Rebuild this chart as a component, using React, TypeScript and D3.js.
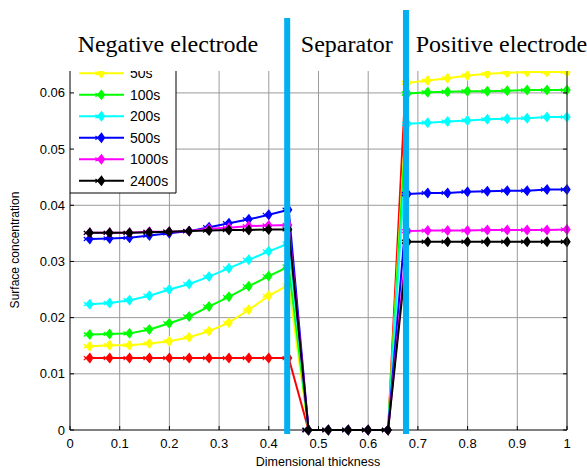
// @ts-nocheck
import { useRef, useEffect } from "react";
import * as d3 from "d3";

// dimensionless thickness at which the concentration is sampled
const xNeg = [0.04, 0.08, 0.12, 0.16, 0.2, 0.24, 0.28, 0.32, 0.36, 0.4, 0.44];
const xSep = [0.48, 0.52, 0.56, 0.6, 0.64];
const xPos = [0.68, 0.72, 0.76, 0.8, 0.84, 0.88, 0.92, 0.96, 1.0];

const sepZero = [0, 0, 0, 0, 0];

const seriesNames = ["0s", "50s", "100s", "200s", "500s", "1000s", "2400s"];
const seriesColors = ["#ff0000", "#ffff00", "#00ff00", "#00ffff", "#0000ff", "#ff00ff", "#000000"];

// negative electrode values
const neg0 = [0.0128, 0.0128, 0.0128, 0.0128, 0.0128, 0.0128, 0.0128, 0.0128, 0.0128, 0.0128, 0.0128];
const neg50 = [0.0149, 0.0151, 0.0151, 0.0154, 0.0158, 0.0165, 0.0176, 0.0191, 0.0214, 0.0239, 0.0258];
const neg100 = [0.017, 0.0171, 0.0172, 0.0179, 0.019, 0.0202, 0.022, 0.0237, 0.0256, 0.0274, 0.0291];
const neg200 = [0.0224, 0.0226, 0.0231, 0.0239, 0.025, 0.026, 0.0273, 0.0288, 0.0303, 0.0318, 0.0332];
const neg500 = [0.034, 0.0341, 0.0342, 0.0346, 0.035, 0.0354, 0.0361, 0.0368, 0.0375, 0.0383, 0.0392];
const neg1000 = [0.0351, 0.0351, 0.0351, 0.0353, 0.0353, 0.0354, 0.0358, 0.036, 0.0363, 0.0364, 0.0365];
const neg2400 = [0.0351, 0.0351, 0.0351, 0.0352, 0.0353, 0.0354, 0.0355, 0.0356, 0.0356, 0.0357, 0.0357];

// positive electrode values
const pos0 = [0.07, 0.07, 0.07, 0.07, 0.07, 0.07, 0.07, 0.07, 0.07];
const pos50 = [0.0618, 0.0622, 0.0626, 0.0631, 0.0634, 0.0636, 0.0637, 0.0637, 0.0637];
const pos100 = [0.0599, 0.0601, 0.0602, 0.0603, 0.0603, 0.0604, 0.0605, 0.0605, 0.0605];
const pos200 = [0.0545, 0.0547, 0.0549, 0.0551, 0.0553, 0.0554, 0.0555, 0.0557, 0.0557];
const pos500 = [0.042, 0.0422, 0.0422, 0.0424, 0.0425, 0.0426, 0.0426, 0.0428, 0.0428];
const pos1000 = [0.0354, 0.0355, 0.0355, 0.0355, 0.0356, 0.0356, 0.0356, 0.0356, 0.0357];
const pos2400 = [0.0335, 0.0335, 0.0335, 0.0335, 0.0335, 0.0335, 0.0335, 0.0335, 0.0335];

const negSeries = [neg0, neg50, neg100, neg200, neg500, neg1000, neg2400];
const posSeries = [pos0, pos50, pos100, pos200, pos500, pos1000, pos2400];

const xTicks = [0, 0.1, 0.2, 0.3, 0.4, 0.5, 0.6, 0.7, 0.8, 0.9, 1];
const yTicks = [0, 0.01, 0.02, 0.03, 0.04, 0.05, 0.06];

// region boundaries (blue bars) and region titles
const boundaries = [0.437, 0.676];
const regionTitles = [
  { label: "Negative electrode", x: 0.197 },
  { label: "Separator", x: 0.557 },
  { label: "Positive electrode", x: 0.868 },
];

const W = 587;
const H = 468;

const App = () => {
  const svgRef = useRef();

  useEffect(() => {
    const svg = d3.select(svgRef.current);
    svg.selectAll("*").remove();

    const margin = { top: 71, right: 20, bottom: 38, left: 70 };
    const x = d3.scaleLinear().domain([0, 1]).range([margin.left, W - margin.right]);
    const y = d3.scaleLinear().domain([0, 0.0639]).range([H - margin.bottom, margin.top]);

    svg.append("rect").attr("width", W).attr("height", H).attr("fill", "white");

    svg
      .append("defs")
      .append("clipPath")
      .attr("id", "plotClip")
      .append("rect")
      .attr("x", 0)
      .attr("y", margin.top)
      .attr("width", W)
      .attr("height", H - margin.top);

    // grid
    const grid = svg.append("g").attr("stroke", "#9a9a9a").attr("stroke-width", 1);
    xTicks.slice(1).forEach((t) => {
      grid.append("line").attr("x1", x(t)).attr("x2", x(t)).attr("y1", y(0)).attr("y2", margin.top);
    });
    yTicks.slice(1).forEach((t) => {
      grid.append("line").attr("x1", x(0)).attr("x2", x(1)).attr("y1", y(t)).attr("y2", y(t));
    });

    // build series data
    const series = seriesNames.map((name, i) => {
      const pts = [
        ...xNeg.map((xv, j) => [xv, negSeries[i][j]]),
        ...xSep.map((xv, j) => [xv, sepZero[j]]),
        ...xPos.map((xv, j) => [xv, posSeries[i][j]]),
      ];
      return { name, color: seriesColors[i], pts };
    });

    const line = d3
      .line()
      .x((d) => x(d[0]))
      .y((d) => y(d[1]));

    const plot = svg.append("g").attr("clip-path", "url(#plotClip)");

    const markerPath = "M-4,0 L0,-4.5 L3,0 L0,4.5 Z M-4,0 L-6,-2 M-4,0 L-6,2 M0,-5 L0,5";

    series.forEach((s) => {
      plot
        .append("path")
        .datum(s.pts)
        .attr("fill", "none")
        .attr("stroke", s.color)
        .attr("stroke-width", 2)
        .attr("d", line);
      plot
        .selectAll(null)
        .data(s.pts.filter((d) => d[1] <= y.domain()[1]))
        .enter()
        .append("path")
        .attr("transform", (d) => `translate(${x(d[0])},${y(d[1])})`)
        .attr("d", markerPath)
        .attr("fill", s.color)
        .attr("stroke", s.color)
        .attr("stroke-width", 1.2);
    });

    // legend
    const legend = plot.append("g");
    const legTop = 73.3;
    const legStep = 21.5;
    legend
      .append("rect")
      .attr("x", x(0))
      .attr("y", margin.top - 20)
      .attr("width", 106)
      .attr("height", 193 - (margin.top - 20))
      .attr("fill", "white");
    legend
      .append("path")
      .attr("d", `M${x(0) + 106},${margin.top} V193 H${x(0)}`)
      .attr("fill", "none")
      .attr("stroke", "#000")
      .attr("stroke-width", 1);
    seriesNames.slice(1).forEach((name, i) => {
      const ly = legTop + i * legStep;
      const c = seriesColors[i + 1];
      legend.append("line").attr("x1", 79).attr("x2", 124).attr("y1", ly).attr("y2", ly).attr("stroke", c).attr("stroke-width", 2);
      legend
        .append("path")
        .attr("transform", `translate(101.5,${ly})`)
        .attr("d", markerPath)
        .attr("fill", c)
        .attr("stroke", c)
        .attr("stroke-width", 1.2);
      legend
        .append("text")
        .attr("x", 130)
        .attr("y", ly + 5)
        .attr("font-family", "Arial, 'Liberation Sans', sans-serif")
        .attr("font-size", 14)
        .text(name);
    });

    // axes
    const axes = svg.append("g").attr("stroke", "#000").attr("stroke-width", 1);
    axes.append("line").attr("x1", x(0)).attr("x2", x(1)).attr("y1", y(0)).attr("y2", y(0));
    axes.append("line").attr("x1", x(0)).attr("x2", x(0)).attr("y1", y(0)).attr("y2", margin.top);
    axes.append("line").attr("x1", x(1)).attr("x2", x(1)).attr("y1", y(0)).attr("y2", margin.top).attr("stroke", "#333");
    xTicks.forEach((t) => {
      axes.append("line").attr("x1", x(t)).attr("x2", x(t)).attr("y1", y(0)).attr("y2", y(0) - 4);
    });
    yTicks.forEach((t) => {
      axes.append("line").attr("x1", x(0)).attr("x2", x(0) + 4).attr("y1", y(t)).attr("y2", y(t));
      axes.append("line").attr("x1", x(1)).attr("x2", x(1) - 4).attr("y1", y(t)).attr("y2", y(t));
    });

    const labels = svg
      .append("g")
      .attr("font-family", "Arial, 'Liberation Sans', sans-serif")
      .attr("font-size", 13)
      .attr("fill", "#000");
    xTicks.forEach((t) => {
      labels.append("text").attr("x", x(t)).attr("y", 448).attr("text-anchor", "middle").text(d3.format("~g")(t));
    });
    yTicks.forEach((t) => {
      labels
        .append("text")
        .attr("x", 65)
        .attr("y", y(t) + 4.5)
        .attr("text-anchor", "end")
        .text(d3.format("~g")(t));
    });
    labels
      .append("text")
      .attr("x", 318)
      .attr("y", 466)
      .attr("text-anchor", "middle")
      .attr("font-size", 12.5)
      .text("Dimensional thickness");
    labels
      .append("text")
      .attr("transform", "translate(19,250) rotate(-90)")
      .attr("text-anchor", "middle")
      .attr("font-size", 12)
      .text("Surface concentration");

    // blue boundary bars
    const barTops = [18, 10];
    boundaries.forEach((b, i) => {
      svg
        .append("rect")
        .attr("x", x(b) - 3)
        .attr("y", barTops[i])
        .attr("width", 6)
        .attr("height", 434 - barTops[i])
        .attr("fill", "#00b0f0");
    });

    // region titles
    regionTitles.forEach((r) => {
      svg
        .append("text")
        .attr("x", x(r.x))
        .attr("y", 52)
        .attr("text-anchor", "middle")
        .attr("font-family", "'Times New Roman', 'Liberation Serif', serif")
        .attr("font-size", 24)
        .text(r.label);
    });
  }, []);

  return (
    <svg
      ref={svgRef}
      width={W}
      height={H}
      style={{ position: "absolute", left: 0, top: 0, display: "block" }}
    ></svg>
  );
};

export default App;
